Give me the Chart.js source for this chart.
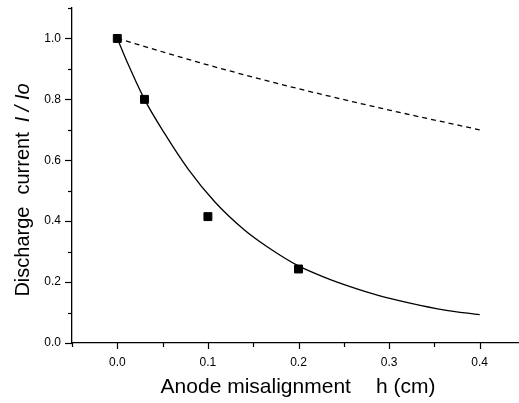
<!DOCTYPE html>
<html>
<head>
<meta charset="utf-8">
<script src="https://cdn.jsdelivr.net/npm/chart.js@4"></script>
<style>
  html, body { margin: 0; padding: 0; background: #fff; overflow: hidden; }
</style>
</head>
<body>
<canvas id="chart" width="525" height="403"></canvas>
<script>
// measured points (squares)
var measH = [0, 0.03, 0.1, 0.2];
var measI = [1.0, 0.80, 0.415, 0.243];

// solid fitted curve
var fitH = [0, 0.012, 0.03, 0.052, 0.078, 0.1075, 0.14, 0.165, 0.2, 0.231, 0.257, 0.286, 0.323, 0.36, 0.4];
var fitI = [1.0, 0.915, 0.80, 0.689, 0.572, 0.464, 0.372, 0.317, 0.253, 0.213, 0.185, 0.158, 0.131, 0.109, 0.093];

// dashed curve
var dashH = [0, 0.1, 0.2, 0.3, 0.4];
var dashI = [1.0, 0.913, 0.835, 0.765, 0.70];

var xMajor = [0, 0.1, 0.2, 0.3, 0.4];
var yMajor = [0, 0.2, 0.4, 0.6, 0.8, 1.0];

function pts(xs, ys) {
  return xs.map(function (x, i) { return { x: x, y: ys[i] }; });
}
function isMajor(v, list) {
  return list.some(function (m) { return Math.abs(m - v) < 1e-6; });
}
function noPad(scale) {
  scale.paddingTop = 0; scale.paddingBottom = 0;
  scale.paddingLeft = 0; scale.paddingRight = 0;
}

var FONT = "'Liberation Sans', Arial, sans-serif";

var extras = {
  id: 'extras',
  afterDraw: function (chart) {
    var ctx = chart.ctx;
    var xs = chart.scales.x, ys = chart.scales.y;
    ctx.save();
    ctx.strokeStyle = '#000';
    ctx.lineWidth = 1.2;
    // x ticks
    xs.ticks.forEach(function (t) {
      var px = Math.round(xs.getPixelForValue(t.value)) + 0.5;
      var len = isMajor(t.value, xMajor) ? 6 : 4;
      ctx.beginPath();
      ctx.moveTo(px, xs.top);
      ctx.lineTo(px, xs.top + len);
      ctx.stroke();
    });
    // y ticks
    ys.ticks.forEach(function (t) {
      var py = Math.round(ys.getPixelForValue(t.value)) + 0.5;
      var len = isMajor(t.value, yMajor) ? 7 : 4;
      ctx.beginPath();
      ctx.moveTo(ys.right, py);
      ctx.lineTo(ys.right - len, py);
      ctx.stroke();
    });

    ctx.fillStyle = '#000';
    ctx.textBaseline = 'alphabetic';
    ctx.textAlign = 'left';
    // x title
    ctx.font = '21px ' + FONT;
    var a = 'Anode misalignment', b = 'h (cm)', gap = 25;
    var wa = ctx.measureText(a).width, wb = ctx.measureText(b).width;
    var sx = 298 - (wa + gap + wb) / 2;
    ctx.fillText(a, sx, 393);
    ctx.fillText(b, sx + wa + gap, 393);

    // y title, rotated, with italic part
    ctx.translate(29, 190);
    ctx.rotate(-Math.PI / 2);
    var p1 = 'Discharge', p2 = 'current', p3 = 'I / Io', g1 = 12, g2 = 10;
    ctx.font = '20px ' + FONT;
    var w1 = ctx.measureText(p1).width, w2 = ctx.measureText(p2).width;
    ctx.font = 'italic 20px ' + FONT;
    var w3 = ctx.measureText(p3).width;
    var s = -(w1 + g1 + w2 + g2 + w3) / 2;
    ctx.font = '20px ' + FONT;
    ctx.fillText(p1, s, 0);
    ctx.fillText(p2, s + w1 + g1, 0);
    ctx.font = 'italic 20px ' + FONT;
    ctx.fillText(p3, s + w1 + g1 + w2 + g2, 0);
    ctx.restore();
  }
};

new Chart(document.getElementById('chart'), {
  type: 'scatter',
  data: {
    datasets: [
      {
        label: 'fit',
        data: pts(fitH, fitI),
        showLine: true,
        borderColor: '#000',
        borderWidth: 1.3,
        pointRadius: 0,
        cubicInterpolationMode: 'monotone',
        fill: false
      },
      {
        label: 'dashed',
        data: pts(dashH, dashI),
        showLine: true,
        borderColor: '#000',
        borderWidth: 1.3,
        borderDash: [5, 4],
        pointRadius: 0,
        cubicInterpolationMode: 'monotone',
        fill: false
      },
      {
        label: 'measured',
        data: pts(measH, measI),
        showLine: false,
        pointStyle: 'rect',
        pointRadius: 5.6,
        pointBackgroundColor: '#000',
        pointBorderColor: '#000',
        pointBorderWidth: 1
      }
    ]
  },
  options: {
    responsive: false,
    animation: false,
    layout: { autoPadding: false, padding: { top: 8, right: 0, left: 0, bottom: 0 } },
    plugins: { legend: { display: false }, tooltip: { enabled: false } },
    scales: {
      x: {
        type: 'linear',
        min: -0.05,
        max: 0.45,
        afterFit: function (scale) { scale.height = 60; noPad(scale); },
        grid: { display: true, drawOnChartArea: false, drawTicks: false },
        border: { display: true, color: '#000', width: 1.3 },
        ticks: {
          stepSize: 0.05,
          padding: 12,
          color: '#000',
          font: { family: FONT, size: 12 },
          maxRotation: 0,
          autoSkip: false,
          callback: function (v) { return isMajor(v, xMajor) ? v.toFixed(1) : ''; }
        }
      },
      y: {
        type: 'linear',
        min: 0,
        max: 1.1,
        afterFit: function (scale) { scale.width = 72; noPad(scale); },
        grid: { display: true, drawOnChartArea: false, drawTicks: false },
        border: { display: true, color: '#000', width: 1.3 },
        ticks: {
          stepSize: 0.1,
          padding: 11,
          color: '#000',
          font: { family: FONT, size: 12 },
          autoSkip: false,
          callback: function (v) { return isMajor(v, yMajor) ? v.toFixed(1) : ''; }
        }
      }
    }
  },
  plugins: [extras]
});
</script>
</body>
</html>
